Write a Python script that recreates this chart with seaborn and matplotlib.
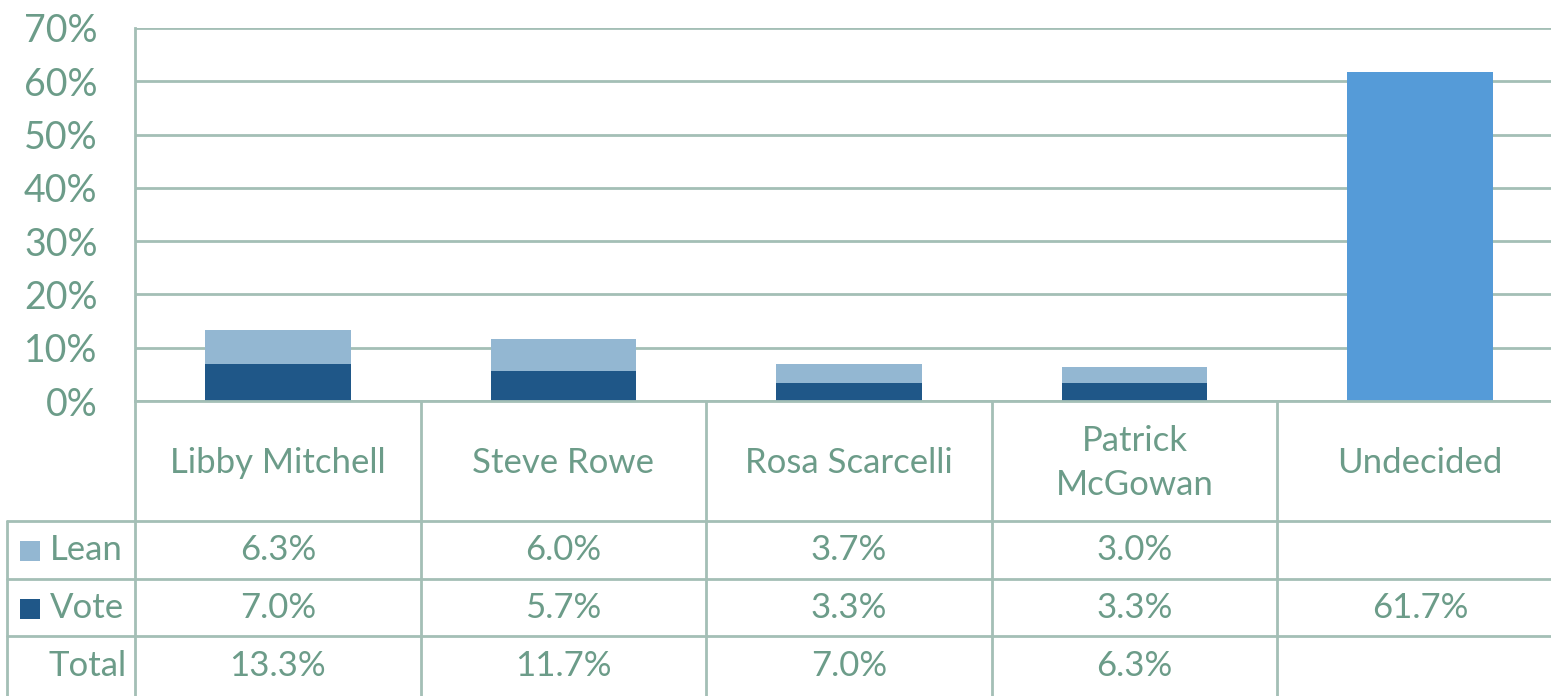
import numpy as np
import pandas as pd
import matplotlib
matplotlib.use("Agg")
import matplotlib.pyplot as plt
import seaborn as sns

# Data
CANDIDATES = ["Libby Mitchell", "Steve Rowe", "Rosa Scarcelli", "Patrick\nMcGowan", "Undecided"]
LEAN = [6.3, 6.0, 3.7, 3.0, np.nan]
VOTE = [7.0, 5.7, 3.3, 3.3, 61.7]
TOTAL = [13.3, 11.7, 7.0, 6.3, np.nan]
Y_TICKS = [0, 10, 20, 30, 40, 50, 60, 70]

# Colours
TEXT = "#6C9C89"
GRID = "#A4BFB6"
LEAN_C = "#93B7D2"
VOTE_C = "#1F5788"
UNDEC_C = "#559BD8"

sns.set_theme(style="white")
plt.rcParams["font.family"] = ["Lato", "DejaVu Sans"]

W, H = 1551, 696
fig = plt.figure(figsize=(W / 100, H / 100), dpi=100)

# bar area (pixel layout of the reference; the plot runs a little past the right edge)
left, right, top, bottom = 135, 1563, 28, 401
ax = fig.add_axes([left / W, 1 - bottom / H, (right - left) / W, (bottom - top) / H])

df = pd.DataFrame({"cand": CANDIDATES, "lean": LEAN, "vote": VOTE, "total": TOTAL})
df["top"] = df["total"].fillna(0)

sns.barplot(data=df, x="cand", y="top", color=LEAN_C, saturation=1,
            width=0.51, ax=ax, linewidth=0)
sns.barplot(data=df, x="cand", y="vote", hue="cand",
            palette=[VOTE_C] * 4 + [UNDEC_C], saturation=1, legend=False,
            width=0.51, ax=ax, linewidth=0)

ax.set_xlim(-0.5, len(CANDIDATES) - 0.5)
ax.set_ylim(0, 70)
ax.set_yticks(Y_TICKS)
ax.set_yticklabels([f"{t}%" for t in Y_TICKS], color=TEXT, fontsize=27)
ax.tick_params(axis="y", length=0, pad=27)
ax.set_xticks([])
ax.set_xlabel("")
ax.set_ylabel("")
ax.grid(axis="y", color=GRID, linewidth=2)
ax.set_axisbelow(True)
for s in ["top", "right"]:
    ax.spines[s].set_visible(False)
ax.spines["left"].set_color(GRID)
ax.spines["left"].set_linewidth(2)
ax.spines["bottom"].set_color(GRID)
ax.spines["bottom"].set_linewidth(2)

# data table below the bars
cat_w = (right - left) / len(CANDIDATES)
tleft = 7
x0 = -0.5 - (left - tleft) / cat_w
tax = fig.add_axes([tleft / W, 0, (right - tleft) / W, (H - bottom) / H])
tax.set_xlim(x0, len(CANDIDATES) - 0.5)
tax.set_ylim(H - bottom, 0)
tax.axis("off")

rows = [0, 120, 178, 235, H - bottom]
lw = 2
n = len(CANDIDATES)
# horizontal lines
for y in rows[1:4]:
    tax.plot([x0, n - 0.5], [y, y], color=GRID, lw=lw, clip_on=False)
# vertical lines
tax.plot([-0.5, -0.5], [0, rows[-1]], color=GRID, lw=lw, clip_on=False)
tax.plot([x0, x0], [rows[1], rows[-1]], color=GRID, lw=lw, clip_on=False)
for i in range(n - 1):
    tax.plot([i + 0.5, i + 0.5], [0, rows[-1]], color=GRID, lw=lw, clip_on=False)

fs = 25
for i, c in enumerate(CANDIDATES):
    tax.text(i, (rows[0] + rows[1]) / 2 + 2, c, ha="center", va="center",
             color=TEXT, fontsize=fs, linespacing=1.45)

for r, (vals, name, col) in enumerate([(LEAN, "Lean", LEAN_C),
                                        (VOTE, "Vote", VOTE_C),
                                        (TOTAL, "Total", None)]):
    yc = (rows[r + 1] + rows[r + 2]) / 2
    for i, v in enumerate(vals):
        if not np.isnan(v):
            tax.text(i, yc, f"{v:.1f}%", ha="center", va="center", color=TEXT, fontsize=fs)
    if col is None:
        tax.text(-0.5 - 8 / cat_w, yc, name, ha="right", va="center", color=TEXT, fontsize=fs)
    else:
        tax.scatter([x0 + 23 / cat_w], [yc + 1], marker="s", s=225, color=col,
                    linewidths=0, clip_on=False)
        tax.text(x0 + 43 / cat_w, yc, name, ha="left", va="center", color=TEXT, fontsize=fs)

fig.savefig("out.png", dpi=100)
